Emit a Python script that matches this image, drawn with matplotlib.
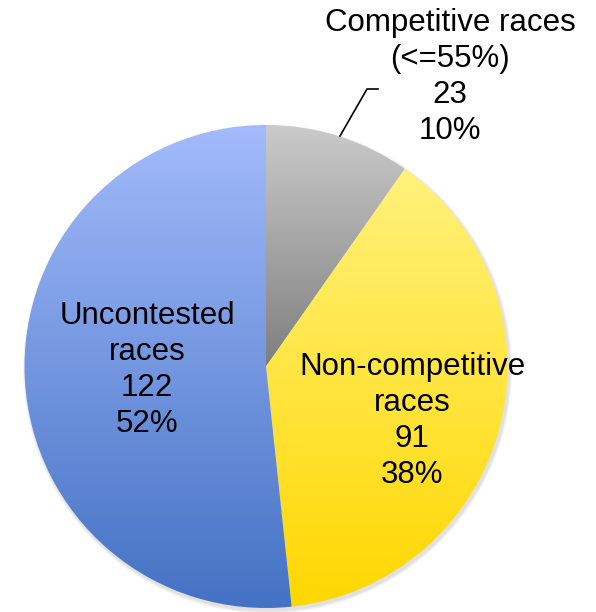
import matplotlib.pyplot as plt
import numpy as np
from matplotlib.patches import Wedge, Circle
from matplotlib.colors import LinearSegmentedColormap

# Data
labels = ['Competitive races\n(<=55%)', 'Non-competitive\nraces', 'Uncontested\nraces']
counts = [23, 91, 122]
pcts = ['10%', '38%', '52%']
# top / bottom colours of each slice gradient
grad_top = ['#cbcbcb', '#fff27c', '#a3bbfb']
grad_bot = ['#7f7f7f', '#ffd700', '#4472c4']

W, H = 596, 612
fig = plt.figure(figsize=(W / 100, H / 100), dpi=100)
ax = fig.add_axes([0, 0, 1, 1])
ax.set_xlim(0, W)
ax.set_ylim(0, H)
ax.axis('off')

cx, cy, r = 266, H - 366.5, 241.5

# soft shadow
for i in range(3):
    ax.add_patch(Circle((cx + 1.5, cy - 2.5), r + 3 - i, color='black', alpha=0.04, lw=0, zorder=1))

total = sum(counts)
start = 90.0
for i, c in enumerate(counts):
    sweep = 360.0 * c / total
    t1, t2 = start - sweep, start
    w = Wedge((cx, cy), r, t1, t2, lw=0, facecolor='none', zorder=2)
    ax.add_patch(w)
    # vertical extent of the wedge
    angs = np.linspace(np.radians(t1), np.radians(t2), 200)
    ys = np.concatenate([[cy], cy + r * np.sin(angs)])
    y0, y1 = ys.min(), ys.max()
    cmap = LinearSegmentedColormap.from_list('g%d' % i, [grad_bot[i], grad_top[i]])
    grad = np.linspace(0, 1, 256).reshape(-1, 1)
    im = ax.imshow(grad, cmap=cmap, origin='lower', aspect='auto',
                   extent=[cx - r - 2, cx + r + 2, y0, y1], zorder=2, interpolation='bilinear')
    im.set_clip_path(w)
    start = t1

ax.set_xlim(0, W)
ax.set_ylim(0, H)

font = dict(fontsize=22.5, family=['Liberation Sans', 'DejaVu Sans'], ha='center', va='center',
            linespacing=1.27, zorder=5)
pos = [(450, 77), (412, 421), (147, 370)]
for (x, y), lab, c, p in zip(pos, labels, counts, pcts):
    ax.text(x, H - y, f'{lab}\n{c}\n{p}', **font)

# leader line for the small slice
ax.plot([340, 367, 378], [H - 136, H - 89, H - 89], color='black', lw=1.2, zorder=5)

plt.savefig('out.png', dpi=100)
